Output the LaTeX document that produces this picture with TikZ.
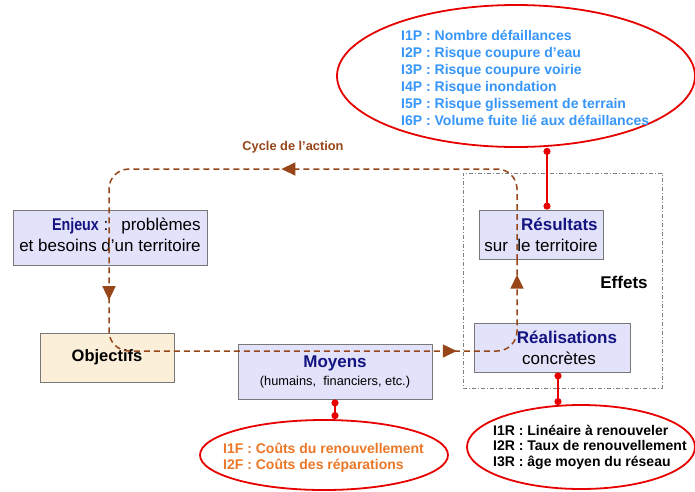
\documentclass[tikz,border=0pt]{standalone}
\usepackage{fontspec}
\setmainfont{Liberation Sans}
\usetikzlibrary{shapes.geometric,arrows.meta,decorations.markings,calc}
\definecolor{cyc}{RGB}{150,70,25}
\definecolor{boxfill}{RGB}{226,226,250}
\definecolor{objfill}{RGB}{251,239,217}
\definecolor{navy}{RGB}{20,20,130}
\definecolor{indred}{RGB}{232,0,0}
\definecolor{pblue}{RGB}{55,150,250}
\definecolor{forange}{RGB}{235,120,40}
\definecolor{boxline}{RGB}{120,120,120}
\begin{document}
\begin{tikzpicture}[x=1pt,y=-1pt,
  box/.style={draw=boxline, fill=boxfill, line width=0.8pt, inner sep=2pt,
    font=\fontsize{17}{21}\selectfont},
  ell/.style={draw=indred, ellipse, line width=1.8pt, inner sep=0pt},
  ind/.style={draw=indred, line width=2.2pt, {Circle[length=7pt]}-{Circle[length=7pt]}},
  indtext/.style={align=left, inner sep=0pt, font=\bfseries\fontsize{14}{17}\selectfont},
  cycle path/.style={draw=cyc, line width=1.5pt, dash pattern=on 6pt off 4pt, rounded corners=20pt},
  tipmark/.style={postaction={decorate, decoration={markings,
     mark=at position 318pt with {\arrow[cyc]{Triangle[length=14pt,width=13pt]}},
     mark=at position 613pt with {\arrow[cyc]{Triangle[length=14pt,width=13pt]}},
     mark=at position 1003pt with {\arrow[cyc]{Triangle[length=14pt,width=13pt]}},
     mark=at position 1131pt with {\arrow[cyc]{Triangle[length=14pt,width=13pt]}}}}}
  ]
\useasboundingbox (0,0) rectangle (695,491);
\fill[white] (0,0) rectangle (695,491);

% Effets frame
\node[draw=gray, line width=0.8pt, dash pattern=on 4pt off 2pt on 1pt off 2pt,
  minimum width=199pt, minimum height=215pt, inner sep=0pt] (eff) at (562.5,280.5) {};
\node[font=\bfseries\fontsize{17}{19}\selectfont] (efftxt) at (624,282) {Effets};

% boxes
\node[box, minimum width=194pt, minimum height=55pt, align=right] (enj) at (110,237.5)
  {\scalebox{0.84}[1]{\color{navy}\bfseries Enjeux}\ :\hspace{13pt}problèmes\\et besoins d’un territoire\rule[-6pt]{0pt}{6pt}};
\node[box, fill=objfill, minimum width=134pt, minimum height=49pt, font=\bfseries\fontsize{16.5}{21}\selectfont] (obj) at (107,357.5) {Objectifs};
\node[box, minimum width=194pt, minimum height=55pt, align=center] (moy) at (335,371.5)
  {{\color{navy}\bfseries Moyens}\\[-3pt]{\fontsize{12.8}{15}\selectfont(humains,\ \ financiers, etc.)}};
\node[box, minimum width=124pt, minimum height=49pt, align=right] (res) at (541,234.5)
  {{\color{navy}\bfseries Résultats}\\sur\ \ le territoire};
\node[box, minimum width=156pt, minimum height=49pt, align=center] (rea) at (552,347.5)
  {\hspace*{30pt}{\color{navy}\bfseries Réalisations}\\\hspace*{14pt}concrètes};

% cycle of action
\draw[cycle path, tipmark] (517,260) -- (517,169) -- (109,169) -- (109,351) -- (517,351) -- (517,260);
\node[text=cyc, font=\bfseries\fontsize{12.8}{15}\selectfont] (cyctxt) at (293,147) {Cycle de l'action};

% indicator ellipses
\node[ell, minimum width=358pt, minimum height=142pt] (pell) at (516,76) {};
\node[indtext, text=pblue, anchor=north west] (ptxt) at (401,30)
  {I1P : Nombre défaillances\\I2P : Risque coupure d’eau\\I3P : Risque coupure voirie\\I4P : Risque inondation\\I5P : Risque glissement de terrain\\I6P : Volume fuite lié aux défaillances};

\node[ell, minimum width=248pt, minimum height=70pt] (fell) at (324,455) {};
\node[indtext, text=forange, anchor=north west, font=\bfseries\fontsize{14}{16}\selectfont] (ftxt) at (223,443)
  {I1F : Coûts du renouvellement\\I2F : Coûts des réparations};

\node[ell, minimum width=228pt, minimum height=84pt] (rell) at (581,447) {};
\node[indtext, text=black, anchor=north west, font=\bfseries\fontsize{14}{15.5}\selectfont] (rtxt) at (493,425)
  {I1R : Linéaire à renouveler\\I2R : Taux de renouvellement\\I3R : âge moyen du réseau};

% indicator links
\draw[ind] ([xshift=6pt]res.north) coordinate (ra) -- (ra |- pell.south);
\draw[ind] ([xshift=6pt]rea.south) coordinate (rb) -- ($(rb |- rell.north)+(0,1)$);
\draw[ind] (moy.south) -- (moy.south |- fell.north);
\end{tikzpicture}
\end{document}
